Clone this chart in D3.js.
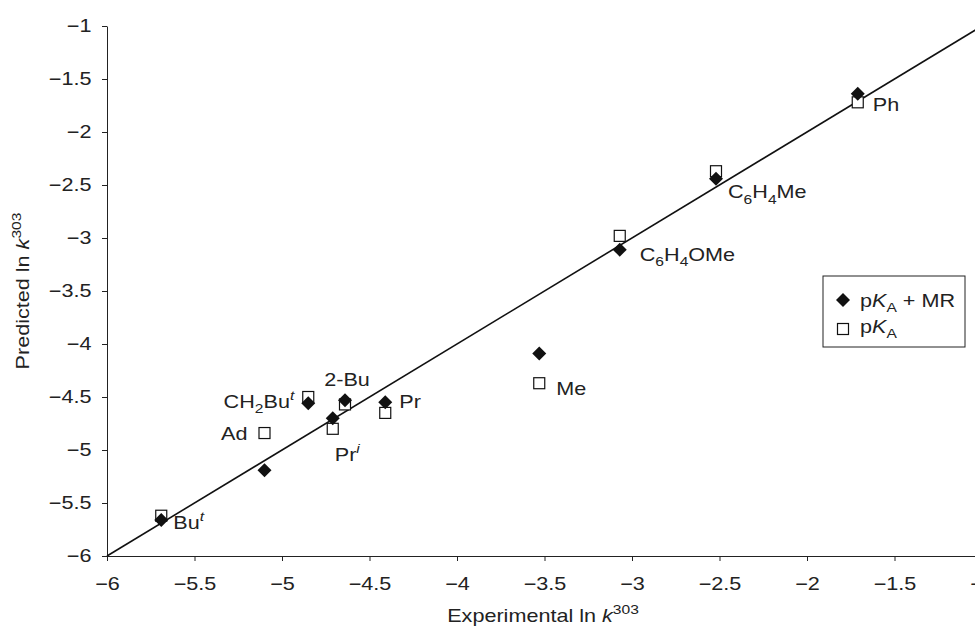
<!DOCTYPE html>
<html>
<head>
<meta charset="utf-8">
<script src="https://cdn.jsdelivr.net/npm/d3@7"></script>
<style>
  body { margin: 0; background: #fff; }
  svg { font-family: "Liberation Sans", Arial, sans-serif; }
</style>
</head>
<body>
<svg id="chart" width="975" height="635"></svg>
<script>
// DATA
var groups = ["Bu^t", "Ad", "CH2Bu^t", "2-Bu", "Pr^i", "Pr", "Me", "C6H4OMe", "C6H4Me", "Ph"];
var experimental = [-5.69, -5.10, -4.85, -4.64, -4.71, -4.41, -3.53, -3.07, -2.52, -1.71];
var predictedMR  = [-5.66, -5.19, -4.56, -4.53, -4.70, -4.55, -4.09, -3.11, -2.44, -1.64];
var predictedPKa = [-5.62, -4.84, -4.50, -4.57, -4.80, -4.65, -4.37, -2.98, -2.37, -1.72];
var tickValues = [-6, -5.5, -5, -4.5, -4, -3.5, -3, -2.5, -2, -1.5, -1];

// label pieces: [text, "sub"|"sup"|"", italic]
var labelParts = [
  [["Bu", "", 0], ["t", "sup", 1]],
  [["Ad", "", 0]],
  [["CH", "", 0], ["2", "sub", 0], ["Bu", "", 0], ["t", "sup", 1]],
  [["2-Bu", "", 0]],
  [["Pr", "", 0], ["i", "sup", 1]],
  [["Pr", "", 0]],
  [["Me", "", 0]],
  [["C", "", 0], ["6", "sub", 0], ["H", "", 0], ["4", "sub", 0], ["OMe", "", 0]],
  [["C", "", 0], ["6", "sub", 0], ["H", "", 0], ["4", "sub", 0], ["Me", "", 0]],
  [["Ph", "", 0]]
];
// label offsets from the open square (px) and anchor
var labelOffsets = [[12, 13, "start"], [-17, 7, "end"], [-14, 11, "end"], [2, -18, "middle"],
  [2, 32, "start"], [14, -5, "start"], [17, 12, "start"], [20, 25, "start"], [12, 27, "start"], [15, 9, "start"]];

var SX = 1.2; // glyphs in the figure are a bit wide

// HELPERS
var rich = function(sel, parts, size) {
  var small = Math.round(size * 0.72);
  var shift = 0;
  parts.forEach(function(p) {
    var target = p[1] === "sub" ? size * 0.3 : p[1] === "sup" ? -size * 0.42 : 0;
    sel.append("tspan")
      .attr("dy", target - shift)
      .style("font-size", (p[1] ? small : size) + "px")
      .style("font-style", p[2] ? "italic" : "normal")
      .text(p[0]);
    shift = target;
  });
};

var place = function(sel, px, py, rot) {
  sel.attr("transform", "translate(" + px + "," + py + ")" + (rot ? " rotate(" + rot + ")" : "") + " scale(" + SX + ",1)");
};

// CHART
var svg = d3.select("#chart");
var x = d3.scaleLinear().domain([-6, -1]).range([107, 982]);
var y = d3.scaleLinear().domain([-6, -1]).range([556, 26]);
var fmt = function(d) { return "\u2212" + Math.abs(d); };

svg.append("g")
  .attr("transform", "translate(0," + y(-6) + ")")
  .call(d3.axisBottom(x).tickValues(tickValues).tickFormat(fmt).tickSize(5).tickSizeOuter(0).tickPadding(16))
  .call(function(g) { g.selectAll("text").style("font-size", "18px").attr("fill", "#222").attr("transform", "scale(" + SX + ",1)"); })
  .call(function(g) { g.selectAll("line,path").attr("stroke", "#222"); });

svg.append("g")
  .attr("transform", "translate(" + x(-6) + ",0)")
  .call(d3.axisLeft(y).tickValues(tickValues).tickFormat(fmt).tickSize(5).tickSizeOuter(0).tickPadding(8))
  .call(function(g) { g.selectAll("text").style("font-size", "18px").attr("fill", "#222").attr("transform", "scale(" + SX + ",1)"); })
  .call(function(g) { g.selectAll("line,path").attr("stroke", "#222"); });

// y = x line
svg.append("line")
  .attr("x1", x(-6)).attr("y1", y(-6))
  .attr("x2", x(-1)).attr("y2", y(-1))
  .attr("stroke", "#111").attr("stroke-width", 1.6);

var pts = groups.map(function(g, i) {
  return { name: g, x: experimental[i], mr: predictedMR[i], pk: predictedPKa[i], i: i };
});

svg.selectAll(".sq")
  .data(pts).enter().append("rect")
  .attr("class", "sq")
  .attr("x", function(d) { return x(d.x) - 5.5; })
  .attr("y", function(d) { return y(d.pk) - 5.5; })
  .attr("width", 11).attr("height", 11)
  .attr("fill", "#fff").attr("stroke", "#111").attr("stroke-width", 1.2);

var diamond = d3.symbol().type(d3.symbolDiamond2).size(125);
svg.selectAll(".dm")
  .data(pts).enter().append("path")
  .attr("class", "dm")
  .attr("d", diamond)
  .attr("transform", function(d) { return "translate(" + x(d.x) + "," + y(d.mr) + ")"; })
  .attr("fill", "#111");

svg.selectAll(".lbl")
  .data(pts).enter().append("text")
  .attr("class", "lbl")
  .attr("text-anchor", function(d) { return labelOffsets[d.i][2]; })
  .attr("fill", "#222")
  .each(function(d) {
    var t = d3.select(this);
    place(t, x(d.x) + labelOffsets[d.i][0], y(d.pk) + labelOffsets[d.i][1]);
    rich(t, labelParts[d.i], 18);
  });

// legend
var lg = svg.append("g").attr("transform", "translate(823,276)");
lg.append("rect").attr("width", 142).attr("height", 71)
  .attr("fill", "#fff").attr("stroke", "#222").attr("stroke-width", 1);
lg.append("path").attr("d", diamond).attr("transform", "translate(20,24)").attr("fill", "#111");
lg.append("rect").attr("x", 14.5).attr("y", 47.5).attr("width", 11).attr("height", 11)
  .attr("fill", "#fff").attr("stroke", "#111").attr("stroke-width", 1.2);
lg.append("text").attr("fill", "#222").call(place, 37, 31)
  .call(rich, [["p", "", 0], ["K", "", 1], ["A", "sub", 0], [" + MR", "", 0]], 18);
lg.append("text").attr("fill", "#222").call(place, 37, 57)
  .call(rich, [["p", "", 0], ["K", "", 1], ["A", "sub", 0]], 18);

// axis titles
svg.append("text").attr("text-anchor", "middle").attr("fill", "#222").call(place, 543, 622)
  .call(rich, [["Experimental ln ", "", 0], ["k", "", 1], ["303", "sup", 0]], 18);
svg.append("text").attr("text-anchor", "middle").attr("fill", "#222").call(place, 29, 291, -90)
  .call(rich, [["Predicted ln ", "", 0], ["k", "", 1], ["303", "sup", 0]], 18);
</script>
</body>
</html>
